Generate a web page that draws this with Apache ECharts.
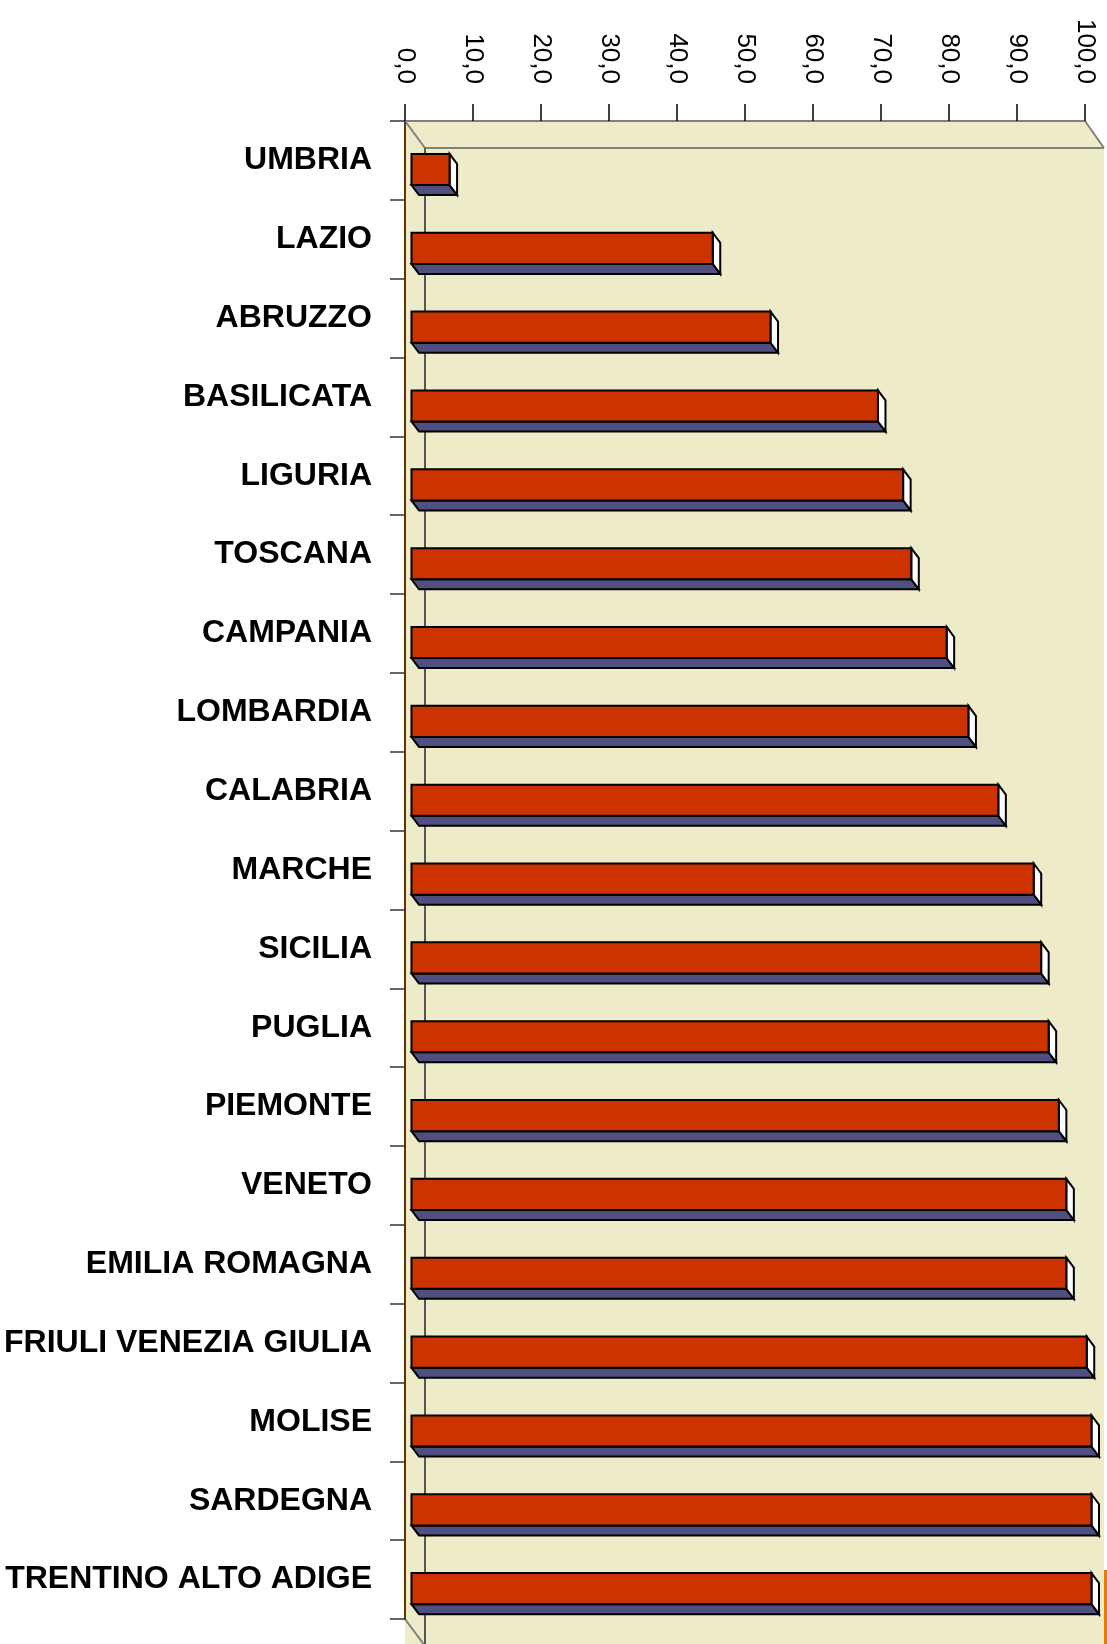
<!DOCTYPE html>
<html>
<head>
<meta charset="utf-8">
<script src="https://cdn.jsdelivr.net/npm/echarts@6/dist/echarts.min.js"></script>
<style>
html,body{margin:0;padding:0;background:#fff;}
#chart{width:1107px;height:1644px;}
</style>
</head>
<body>
<div id="chart"></div>
<script>
const categories = ['UMBRIA','LAZIO','ABRUZZO','BASILICATA','LIGURIA','TOSCANA','CAMPANIA','LOMBARDIA','CALABRIA','MARCHE','SICILIA','PUGLIA','PIEMONTE','VENETO','EMILIA ROMAGNA','FRIULI VENEZIA GIULIA','MOLISE','SARDEGNA','TRENTINO ALTO ADIGE'];
const values = [5.6, 44.3, 52.8, 68.6, 72.3, 73.5, 78.7, 81.9, 86.3, 91.5, 92.6, 93.7, 95.2, 96.3, 96.3, 99.3, 100, 100, 100];
const axisMin = 0, axisMax = 100, axisStep = 10;

const chart = echarts.init(document.getElementById('chart'));
const FONT = 'Liberation Sans, Arial, sans-serif';
const BEIGE = '#EDEBC8';
const DEPTH_X = 20, DEPTH_Y = 27;

function frameItem(params, api) {
  const c = params.coordSys;
  const x0 = c.x, y0 = c.y, x1 = c.x + c.width, y1 = c.y + c.height;
  const lineStyle = {stroke: '#808080', lineWidth: 2, fill: null};
  return {
    type: 'group',
    children: [
      {type: 'polygon', shape: {points: [[x0, y0], [x1, y0], [x1 + DEPTH_X - 1, y0 + DEPTH_Y], [x1 + DEPTH_X - 1, y1 + DEPTH_Y + 5], [x0, y1 + DEPTH_Y + 5]]}, style: {fill: BEIGE}},
      {type: 'line', shape: {x1: x0 + DEPTH_X, y1: y0 + DEPTH_Y, x2: x1 + DEPTH_X - 1, y2: y0 + DEPTH_Y}, style: lineStyle},
      {type: 'line', shape: {x1: x0, y1: y0, x2: x0 + DEPTH_X, y2: y0 + DEPTH_Y}, style: lineStyle},
      {type: 'line', shape: {x1: x1, y1: y0, x2: x1 + DEPTH_X - 1, y2: y0 + DEPTH_Y}, style: lineStyle},
      {type: 'line', shape: {x1: x0, y1: y1, x2: x0 + DEPTH_X, y2: y1 + DEPTH_Y}, style: lineStyle},
      {type: 'line', shape: {x1: x0 + DEPTH_X, y1: y0 + DEPTH_Y, x2: x0 + DEPTH_X, y2: y1 + DEPTH_Y}, style: {stroke: '#555', lineWidth: 2}}
    ]
  };
}

function barItem(params, api) {
  const v = api.value(0), i = api.value(1);
  const s = api.coord([0, i]);
  const e = api.coord([v, i]);
  const band = api.size([0, 1])[1];
  const h = band * 0.395;
  const sx = 6.5, sy = band * 0.115;
  const dx = 7.5, dy = 10;
  const x0 = s[0] + sx, x1 = e[0] + sx;
  const top = s[1] + sy - h / 2, bot = top + h;
  const st = {stroke: '#000', lineWidth: 2, lineJoin: 'miter'};
  return {
    type: 'group',
    children: [
      {type: 'polygon', shape: {points: [[x0, bot], [x1, bot], [x1 + dx, bot + dy], [x0 + dx, bot + dy]]}, style: Object.assign({fill: '#4F4F80'}, st)},
      {type: 'polygon', shape: {points: [[x1, top], [x1 + dx, top + dy], [x1 + dx, bot + dy], [x1, bot]]}, style: Object.assign({fill: '#FFFFFF'}, st)},
      {type: 'rect', shape: {x: x0, y: top, width: x1 - x0, height: h}, style: Object.assign({fill: '#CC3300'}, st)}
    ]
  };
}

chart.setOption({
  animation: false,
  backgroundColor: '#ffffff',
  grid: {left: 405, top: 121, right: 22, bottom: 25, containLabel: false},
  xAxis: {
    type: 'value', position: 'top', min: axisMin, max: axisMax, interval: axisStep, z: 10,
    axisLine: {show: true, lineStyle: {color: '#808080', width: 2}},
    axisTick: {show: true, length: 17, lineStyle: {color: '#000', width: 1.5}},
    splitLine: {show: false},
    axisLabel: {
      rotate: 90, margin: 37, fontSize: 26, color: '#000', fontFamily: FONT,
      formatter: function (v) { return v.toFixed(1).replace('.', ','); }
    }
  },
  yAxis: {
    type: 'category', data: categories, inverse: true, z: 10,
    axisLine: {show: true, lineStyle: {color: '#663300', width: 2}},
    axisTick: {show: true, length: 15, lineStyle: {color: '#333', width: 1.5}},
    axisLabel: {fontSize: 32, fontWeight: 'bold', color: '#000', fontFamily: FONT, margin: 33},
    splitLine: {show: false}
  },
  series: [
    {type: 'custom', name: 'frame', renderItem: frameItem, data: [[0, 0]], clip: false, silent: true, z: 1},
    {type: 'custom', name: 'valori', renderItem: barItem, data: values.map((v, i) => [v, i]), encode: {x: 0, y: 1}, clip: false, z: 3}
  ],
  graphic: [
    {type: 'rect', shape: {x: 1104, y: 1570, width: 3, height: 74}, style: {fill: '#E87A00'}, z: 20}
  ]
});
</script>
</body>
</html>
